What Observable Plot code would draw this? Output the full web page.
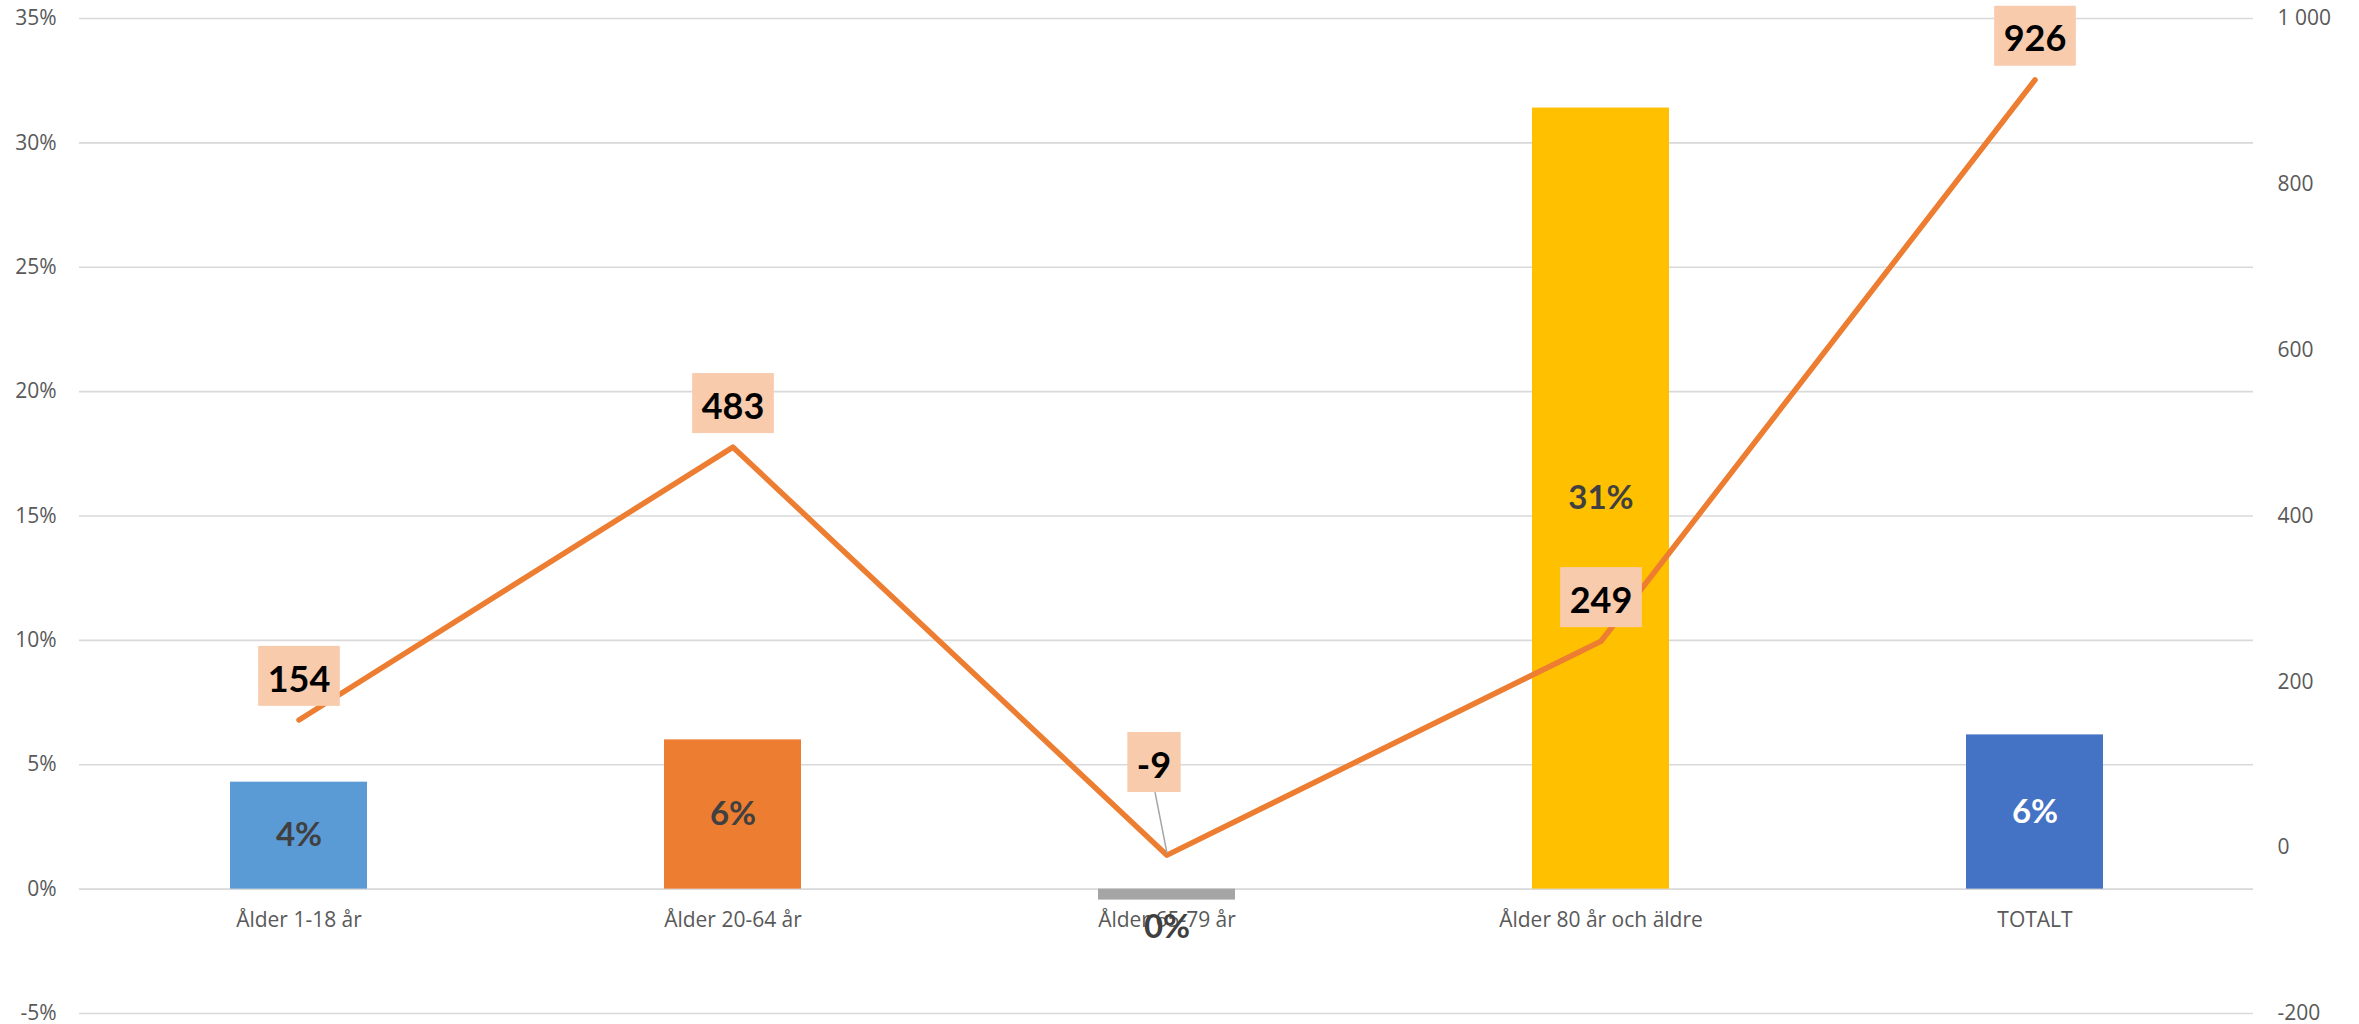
<!DOCTYPE html>
<html><head><meta charset="utf-8">
<script src="https://cdn.jsdelivr.net/npm/d3@7"></script>
<script src="https://cdn.jsdelivr.net/npm/@observablehq/plot@0.6"></script>
<style>html,body{margin:0;padding:0;background:#fff} svg{display:block}</style>
</head><body><div id="chart"></div>
<script>
// ---- data ----
const categories = ["Ålder 1-18 år", "Ålder 20-64 år", "Ålder 65-79 år", "Ålder 80 år och äldre", "TOTALT"];
const barValues = [0.043, 0.060, -0.0044, 0.314, 0.062];
const barLabels = ["4%", "6%", "0%", "31%", "6%"];
const lineValues = [154, 483, -9, 249, 926];
const leftTicks = [-0.05, 0, 0.05, 0.10, 0.15, 0.20, 0.25, 0.30, 0.35];
const rightTicks = [-200, 0, 200, 400, 600, 800, 1000];

// ---- styles ----
const barColors = ["#5B9BD5", "#ED7D31", "#A5A5A5", "#FFC000", "#4472C4"];
const barInk = ["#404040", "#404040", "#404040", "#404040", "#FFFFFF"];
const calloutCats = ["Ålder 65-79 år"];

// secondary axis mapping onto primary (percent) axis
const leftDomain = [-0.05, 0.35], rightDomain = [-200, 1000];
const toLeft = v => leftDomain[0] + (v - rightDomain[0]) / (rightDomain[1] - rightDomain[0]) * (leftDomain[1] - leftDomain[0]);
const fromLeft = p => rightDomain[0] + (p - leftDomain[0]) / (leftDomain[1] - leftDomain[0]) * (rightDomain[1] - rightDomain[0]);
const sv = d3.formatLocale({decimal: ",", thousands: "\u00a0", grouping: [3], currency: ["", ""], minus: "-"}).format(",d");

const rows = categories.map((c, i) => ({
  cat: c, bar: barValues[i], barLabel: barLabels[i], color: barColors[i], ink: barInk[i],
  line: lineValues[i], lineY: toLeft(lineValues[i])
}));

function boxedLabels(data, dx, dy, leader) {
  return Plot.text(data, {
    x: "cat", y: "lineY", text: d => sv(d.line), dx, dy,
    fontSize: 36, fontWeight: "bold", fontFamily: "Lato, 'Open Sans', sans-serif", fill: "#000",
    render(index, scales, values, dimensions, context, next) {
      const g = next(index, scales, values, dimensions, context);
      g.classList.add("boxed");
      g.dataset.dx = dx; g.dataset.dy = dy; g.dataset.leader = leader ? "1" : "0";
      return g;
    }
  });
}

const plot = Plot.plot({
  width: 2359, height: 1024,
  marginLeft: 79, marginRight: 106, marginTop: 18, marginBottom: 11,
  style: {fontFamily: "'Open Sans', sans-serif", fontSize: "21px", color: "#595959", background: "#fff"},
  x: {type: "band", domain: categories, paddingInner: 0.685, paddingOuter: 0.3425, axis: null},
  y: {domain: leftDomain},
  color: {type: "identity"},
  marks: [
    Plot.ruleY(leftTicks, {stroke: "#D9D9D9", strokeWidth: 1.6}),
    Plot.axisY({anchor: "left", ticks: leftTicks, tickSize: 0, tickPadding: 23, label: null,
      tickFormat: d => `${Math.round(d * 100)}%`, fontSize: 21, fill: "#595959"}),
    Plot.axisY({anchor: "right", ticks: rightTicks.map(toLeft), tickSize: 0, tickPadding: 24, label: null,
      tickFormat: d => sv(Math.round(fromLeft(d))), fontSize: 21, fill: "#595959", textAnchor: "start"}),
    Plot.barY(rows, {x: "cat", y: "bar", fill: "color"}),
    Plot.text(rows, {x: "cat", y: 0, text: "cat", dy: 31, fontSize: 21, fill: "#595959"}),
    Plot.text(rows.filter(d => d.bar >= 0), {x: "cat", y: d => d.bar / 2, text: "barLabel", fill: "ink",
      fontSize: 33, fontWeight: "bold", fontFamily: "Lato, 'Open Sans', sans-serif"}),
    Plot.text(rows.filter(d => d.bar < 0), {x: "cat", y: "bar", dy: 27, text: "barLabel", fill: "ink",
      fontSize: 33, fontWeight: "bold", fontFamily: "Lato, 'Open Sans', sans-serif"}),
    Plot.line(rows, {x: "cat", y: "lineY", stroke: "#ED7D31", strokeWidth: 5.5, strokeLinecap: "round", strokeLinejoin: "round"}),
    boxedLabels(rows.filter(d => !calloutCats.includes(d.cat)), 0, -40, false),
    boxedLabels(rows.filter(d => calloutCats.includes(d.cat)), -13, -89, true)
  ]
});
document.getElementById("chart").append(plot);

// label boxes (and callout leader) behind the line value labels
const NS = "http://www.w3.org/2000/svg";
plot.querySelectorAll("g.boxed").forEach(g => {
  const dx = +g.dataset.dx, dy = +g.dataset.dy, leader = g.dataset.leader === "1";
  g.querySelectorAll("text").forEach(t => {
    const b = t.getBBox();
    const tf = t.getAttribute("transform");
    const cx = b.x + b.width / 2;
    const digitMid = b.y + b.height * 0.52;   // visual middle of the digits
    const padX = 9.5, h = 60, cy = digitMid - 2.5;
    const r = document.createElementNS(NS, "rect");
    r.setAttribute("x", b.x - padX); r.setAttribute("width", b.width + 2 * padX);
    r.setAttribute("y", cy - h / 2); r.setAttribute("height", h);
    r.setAttribute("fill", "#F8CBAD"); r.setAttribute("stroke", "none");
    if (tf) r.setAttribute("transform", tf);
    g.insertBefore(r, t);
    if (leader) {
      // anchor point of the label (data point) = text anchor minus the label offset
      const ax = cx - dx, ay = digitMid + 1.5 - dy;
      const l = document.createElementNS(NS, "line");
      l.setAttribute("x1", cx + 1); l.setAttribute("y1", cy + h / 2);
      l.setAttribute("x2", ax); l.setAttribute("y2", ay - 2);
      l.setAttribute("stroke", "#A5A5A5"); l.setAttribute("stroke-width", 1.5);
      if (tf) l.setAttribute("transform", tf);
      g.insertBefore(l, r);
    }
  });
});
</script>
</body></html>
